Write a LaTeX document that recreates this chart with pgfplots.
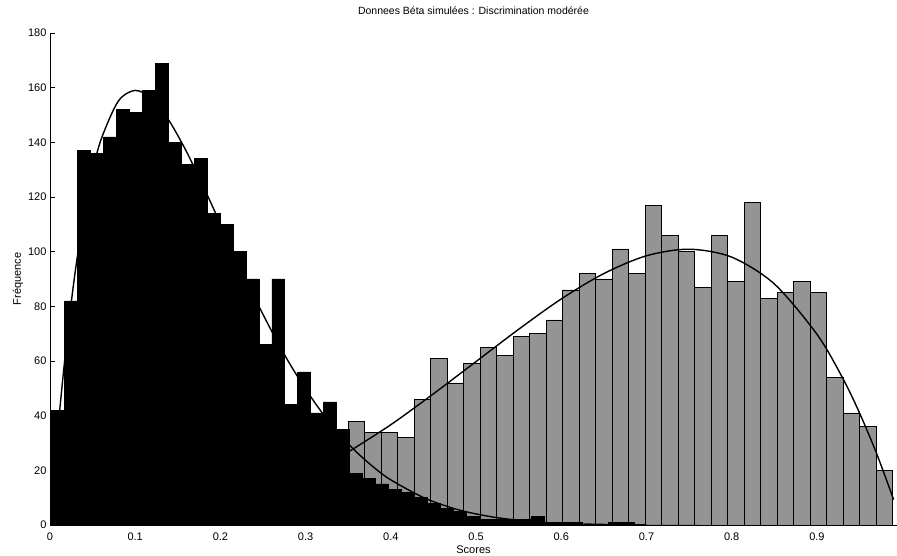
\documentclass[border=0pt]{standalone}
\usepackage{fontspec}
\setmainfont{Liberation Sans}
\usepackage{pgfplots}
\pgfplotsset{compat=1.18}

% Histogram of the second group: left bin edge, count (last row closes the final bin)
\pgfplotstableread{
edge    count
0.0206  0
0.0400  0
0.0593  0
0.0787  1
0.0981  1
0.1174  2
0.1368  3
0.1562  4
0.1756  5
0.1949  6
0.2143  8
0.2337  10
0.2530  13
0.2724  14
0.2918  18
0.3111  21
0.3305  24
0.3499  38
0.3692  34
0.3886  34
0.4080  32
0.4273  46
0.4467  61
0.4661  52
0.4854  59
0.5048  65
0.5242  62
0.5435  69
0.5629  70
0.5823  75
0.6016  86
0.6210  92
0.6404  90
0.6597  101
0.6791  92
0.6985  117
0.7178  106
0.7372  100
0.7566  87
0.7759  106
0.7953  89
0.8147  118
0.8340  83
0.8534  85
0.8728  89
0.8921  85
0.9115  54
0.9309  41
0.9502  36
0.9696  20
0.9890  0
}\groupB

% Histogram of the first group
\pgfplotstableread{
edge    count
0.0020  42
0.0172  82
0.0324  137
0.0476  136
0.0628  142
0.0780  152
0.0932  151
0.1084  159
0.1236  169
0.1388  140
0.1540  132
0.1692  134
0.1844  114
0.1996  110
0.2148  100
0.2300  90
0.2452  66
0.2604  90
0.2756  44
0.2908  56
0.3060  41
0.3212  45
0.3364  35
0.3516  19
0.3668  17
0.3820  15
0.3972  13
0.4124  12
0.4276  10
0.4428  8
0.4580  6
0.4732  5
0.4884  3
0.5036  2
0.5188  2
0.5340  2
0.5492  2
0.5644  3
0.5796  1
0.5948  1
0.6100  1
0.6252  0
0.6404  0
0.6556  1
0.6708  1
0.6860  0
0.7012  0
0.7164  0
0.7316  0
0.7468  0
0.7620  0
}\groupA

\begin{document}
\begin{tikzpicture}
\begin{axis}[
  at={(0,0)}, anchor=south west,
  scale only axis, width=847pt, height=492pt,
  xmin=0, xmax=0.994, ymin=0, ymax=180,
  axis x line*=bottom, axis y line*=left,
  axis line style={-, line width=0.8pt},
  tick align=inside, major tick length=5pt,
  tick style={black, line width=0.8pt},
  xtick={0,0.1,0.2,0.3,0.4,0.5,0.6,0.7,0.8,0.9},
  xticklabels={0,0.1,0.2,0.3,0.4,0.5,0.6,0.7,0.8,0.9},
  ytick={0,20,40,60,80,100,120,140,160,180},
  /pgf/number format/assume math mode=true,
  ticklabel style={font=\fontsize{11}{13}\selectfont},
  xticklabel style={yshift=-4pt},
  title={Donnees Béta simulées : Discrimination modérée},
  title style={font=\fontsize{10.5}{12}\selectfont,
    at={(axis description cs:0.5,1)}, anchor=base, yshift=12pt},
  xlabel={Scores},
  xlabel style={font=\fontsize{11}{13}\selectfont,
    at={(axis description cs:0.5,0)}, anchor=base, yshift=-29pt},
  ylabel={Fréquence},
  ylabel style={font=\fontsize{11}{13}\selectfont,
    at={(axis description cs:0,0.5)}, anchor=base, yshift=29pt},
]
  % second group (grey), then first group (black) on top
  \addplot[ybar interval, fill=black!42, draw=black, line width=0.7pt]
    table[x=edge, y=count] {\groupB};
  \addplot[ybar interval, fill=black, draw=black, line width=0.7pt]
    table[x=edge, y=count] {\groupA};

  % fitted densities
  \addplot[black, line width=1.4pt, smooth] coordinates {
    (0.005,19.6) (0.01,37.5) (0.02,68.4) (0.03,93.6) (0.04,113.7)
    (0.05,129.3) (0.06,141.1) (0.08,155.0) (0.10,159.0) (0.12,155.9)
    (0.14,147.8) (0.16,136.7) (0.18,123.8) (0.20,110.2) (0.22,96.5)
    (0.24,83.3) (0.26,71.0) (0.28,59.7) (0.30,49.7) (0.32,40.8)
    (0.34,33.1) (0.36,26.6) (0.38,21.1) (0.40,16.5) (0.44,9.8)
    (0.48,5.5) (0.52,2.9) (0.56,1.4) (0.60,0.6) (0.65,0.2) (0.70,0.06)
  };
  \addplot[black, line width=1.4pt, smooth] coordinates {
    (0.35,26.7) (0.40,36.7) (0.45,48.0) (0.50,59.8) (0.55,71.6)
    (0.60,82.7) (0.65,92.0) (0.70,98.5) (0.75,100.9) (0.80,98.0)
    (0.85,88.2) (0.90,69.8) (0.93,53.9) (0.95,41.0) (0.97,26.2)
    (0.99,9.3)
  };
\end{axis}
\pgfresetboundingbox
\useasboundingbox (-50pt,-31pt) rectangle (847pt,525pt);
\end{tikzpicture}
\end{document}
